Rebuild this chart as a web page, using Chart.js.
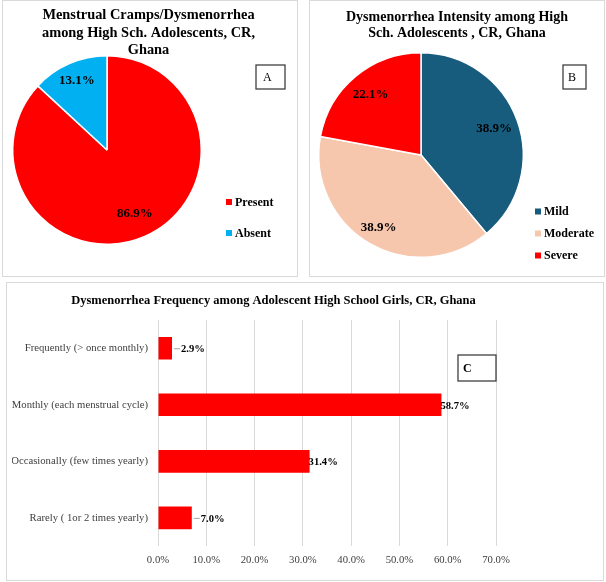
<!DOCTYPE html>
<html>
<head>
<meta charset="utf-8">
<script src="https://cdn.jsdelivr.net/npm/chart.js@4.4.1/dist/chart.umd.min.js"></script>
<style>
  html, body { margin: 0; padding: 0; background: #fff; }
  #page { position: relative; width: 606px; height: 582px; overflow: hidden; background: #fff; }
  .panel { position: absolute; border: 1px solid #d9d9d9; box-sizing: border-box; }
  canvas { position: absolute; }
</style>
</head>
<body>
<div id="page">
  <div class="panel" style="left:2px;top:0;width:296px;height:277px"></div>
  <div class="panel" style="left:309px;top:0;width:296px;height:277px"></div>
  <div class="panel" style="left:6px;top:282px;width:598px;height:299px"></div>
  <canvas id="presenceChart" width="295" height="276" style="left:1px;top:0"></canvas>
  <canvas id="intensityChart" width="295" height="276" style="left:309px;top:0"></canvas>
  <canvas id="frequencyChart" width="533" height="296" style="left:7px;top:283px"></canvas>
</div>
<script>
const presenceLabels = ["Present", "Absent"];
const presenceValues = [86.9, 13.1];
const presenceColors = ["#FF0000", "#00B0F0"];

const intensityLabels = ["Mild", "Moderate", "Severe"];
const intensityValues = [38.9, 38.9, 22.1];
const intensityColors = ["#175C7D", "#F6C6AD", "#FF0000"];

const frequencyLabels = [
  "Frequently (> once monthly)",
  "Monthly (each menstrual cycle)",
  "Occasionally (few times yearly)",
  "Rarely ( 1or 2 times yearly)",
];
const frequencyValues = [2.9, 58.7, 31.4, 7.0];

const serif = '"Liberation Serif", "Times New Roman", serif';

// title, boxed letter and legend drawn on top of each panel
const panelText = {
  id: "panelText",
  afterDraw(chart, args, opts) {
    const ctx = chart.ctx;
    ctx.save();
    ctx.fillStyle = "#000";
    ctx.textBaseline = "middle";
    ctx.textAlign = "center";
    ctx.font = `bold ${opts.titleSize}px ${serif}`;
    opts.title.forEach((line, i) => {
      ctx.fillText(line, opts.titleX, opts.titleY + i * opts.titleGap);
    });

    const b = opts.box;
    ctx.strokeStyle = "#404040";
    ctx.lineWidth = 1.3;
    ctx.strokeRect(b.x, b.y, b.w, b.h);
    ctx.textAlign = "left";
    ctx.font = `${b.bold ? "bold " : ""}12px ${serif}`;
    ctx.fillText(b.text, b.x + b.pad, b.y + b.h / 2 + 0.5);

    if (opts.legend) {
      const lg = opts.legend;
      const colors = chart.data.datasets[0].backgroundColor;
      ctx.font = `bold 12px ${serif}`;
      chart.data.labels.forEach((label, i) => {
        const y = lg.y + i * lg.gap;
        ctx.fillStyle = colors[i];
        ctx.fillRect(lg.x, y - 3, 6, 6);
        ctx.fillStyle = "#000";
        ctx.fillText(label, lg.x + 9, y + 0.5);
      });
    }
    ctx.restore();
  },
};

// percentage labels inside pie slices
const sliceLabels = {
  id: "sliceLabels",
  afterDatasetsDraw(chart, args, opts) {
    const ctx = chart.ctx;
    const meta = chart.getDatasetMeta(0);
    const values = chart.data.datasets[0].data;
    ctx.save();
    ctx.fillStyle = "#000";
    ctx.font = `bold 13px ${serif}`;
    ctx.textAlign = "center";
    ctx.textBaseline = "middle";
    meta.data.forEach((arc, i) => {
      const p = arc.getProps(["x", "y", "startAngle", "endAngle", "outerRadius"], true);
      const mid = (p.startAngle + p.endAngle) / 2;
      const r = p.outerRadius * opts.frac[i];
      ctx.fillText(values[i].toFixed(1) + "%", p.x + Math.cos(mid) * r, p.y + Math.sin(mid) * r);
    });
    ctx.restore();
  },
};

// value labels at the end of the bars, with a leader line for short bars
const barLabels = {
  id: "barLabels",
  afterDatasetsDraw(chart) {
    const ctx = chart.ctx;
    const meta = chart.getDatasetMeta(0);
    const values = chart.data.datasets[0].data;
    ctx.save();
    ctx.font = `bold 10.6px ${serif}`;
    ctx.textAlign = "left";
    ctx.textBaseline = "middle";
    meta.data.forEach((bar, i) => {
      const { x, y } = bar.getProps(["x", "y"], true);
      let tx = x - 1;
      if (values[i] < 10) {
        ctx.strokeStyle = "#a6a6a6";
        ctx.lineWidth = 1;
        ctx.beginPath();
        ctx.moveTo(x + 2, y + 0.5);
        ctx.lineTo(x + 8, y + 0.5);
        ctx.stroke();
        tx = x + 9;
      }
      ctx.fillStyle = "#000";
      ctx.fillText(values[i].toFixed(1) + "%", tx, y + 1);
    });
    ctx.restore();
  },
};

Chart.defaults.font.family = serif;
Chart.defaults.animation = false;

new Chart(document.getElementById("presenceChart"), {
  type: "pie",
  data: {
    labels: presenceLabels,
    datasets: [
      {
        data: presenceValues,
        backgroundColor: presenceColors,
        borderColor: "#fff",
        borderWidth: 1.5,
      },
    ],
  },
  options: {
    responsive: false,
    layout: { padding: { left: 11, right: 94, top: 55, bottom: 31 } },
    plugins: {
      legend: { display: false },
      tooltip: { enabled: false },
      sliceLabels: { frac: [0.74, 0.8] },
      panelText: {
        title: ["Menstrual Cramps/Dysmenorrhea", "among High Sch. Adolescents, CR,", "Ghana"],
        titleSize: 14.4,
        titleX: 147.5,
        titleY: 15.5,
        titleGap: 17.5,
        box: { x: 255, y: 65, w: 29, h: 24, text: "A", pad: 7, bold: false },
        legend: { x: 225, y: 202, gap: 31 },
      },
    },
  },
  plugins: [sliceLabels, panelText],
});

new Chart(document.getElementById("intensityChart"), {
  type: "pie",
  data: {
    labels: intensityLabels,
    datasets: [
      {
        data: intensityValues,
        backgroundColor: intensityColors,
        borderColor: "#fff",
        borderWidth: 1.5,
      },
    ],
  },
  options: {
    responsive: false,
    layout: { padding: { left: 9, right: 80, top: 52, bottom: 18 } },
    plugins: {
      legend: { display: false },
      tooltip: { enabled: false },
      sliceLabels: { frac: [0.76, 0.82, 0.77] },
      panelText: {
        title: ["Dysmenorrhea Intensity among High", "Sch. Adolescents , CR, Ghana"],
        titleSize: 14,
        titleX: 148,
        titleY: 17,
        titleGap: 16.5,
        box: { x: 254, y: 65, w: 23, h: 24, text: "B", pad: 5, bold: false },
        legend: { x: 226, y: 211.5, gap: 22 },
      },
    },
  },
  plugins: [sliceLabels, panelText],
});

new Chart(document.getElementById("frequencyChart"), {
  type: "bar",
  data: {
    labels: frequencyLabels,
    datasets: [
      {
        data: frequencyValues,
        backgroundColor: "#FF0000",
        barPercentage: 0.4,
        categoryPercentage: 1,
      },
    ],
  },
  options: {
    indexAxis: "y",
    responsive: false,
    layout: { padding: { left: 5, right: 44, top: 37, bottom: 4 } },
    scales: {
      x: {
        min: 0,
        max: 70,
        ticks: {
          stepSize: 10,
          padding: 8,
          color: "#404040",
          font: { size: 10.7 },
          callback: (v) => v.toFixed(1) + "%",
        },
        grid: { color: "#d9d9d9", drawTicks: false },
        border: { display: false },
      },
      y: {
        ticks: { padding: 10, color: "#404040", font: { size: 10.7 } },
        grid: { display: false, drawTicks: false },
        border: { display: false },
        afterFit: (scale) => {
          scale.width = 146;
        },
      },
    },
    plugins: {
      legend: { display: false },
      tooltip: { enabled: false },
      panelText: {
        title: ["Dysmenorrhea Frequency among Adolescent High School Girls, CR, Ghana"],
        titleSize: 12.5,
        titleX: 266.5,
        titleY: 18,
        titleGap: 0,
        box: { x: 451, y: 72, w: 38, h: 26, text: "C", pad: 5, bold: true },
      },
    },
  },
  plugins: [barLabels, panelText],
});
</script>
</body>
</html>
